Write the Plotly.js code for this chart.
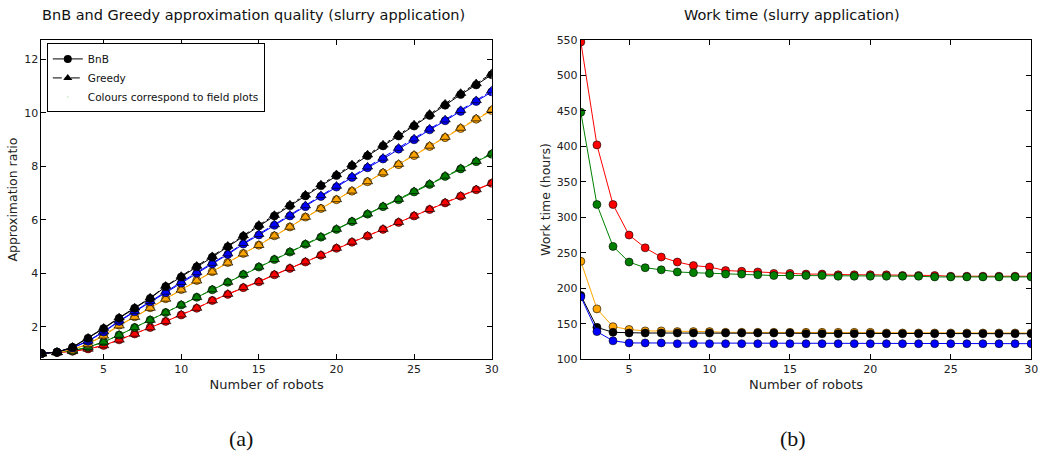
<!DOCTYPE html>
<html>
<head>
<meta charset="utf-8">
<script src="https://cdn.plot.ly/plotly-3.0.1.min.js"></script>
<style>html,body{margin:0;padding:0;background:#fff}#chart{width:1040px;height:457px}</style>
</head>
<body>
<div id="chart"></div>
<script>
// ---- Data: (a) approximation ratio ----
const robotsA = [1,2,3,4,5,6,7,8,9,10,11,12,13,14,15,16,17,18,19,20,21,22,23,24,25,26,27,28,29,30];
const bnbBlack  = [1.0,1.05,1.23,1.57,1.93,2.32,2.69,3.06,3.50,3.86,4.24,4.60,4.99,5.38,5.77,6.14,6.52,6.89,7.27,7.65,8.02,8.39,8.76,9.13,9.50,9.90,10.28,10.68,11.04,11.42];
const bnbBlue   = [1.0,1.05,1.21,1.46,1.80,2.20,2.56,2.93,3.27,3.63,4.00,4.35,4.70,5.09,5.43,5.79,6.14,6.49,6.87,7.22,7.58,7.94,8.27,8.64,8.99,9.36,9.70,10.05,10.42,10.78];
const bnbOrange = [1.0,1.04,1.15,1.36,1.68,2.06,2.37,2.71,3.05,3.39,3.73,4.06,4.40,4.74,5.05,5.40,5.73,6.10,6.42,6.75,7.07,7.42,7.75,8.06,8.40,8.74,9.07,9.41,9.76,10.08];
const bnbGreen  = [1.0,1.04,1.10,1.24,1.43,1.69,1.97,2.25,2.53,2.81,3.10,3.38,3.66,3.95,4.23,4.51,4.79,5.08,5.35,5.64,5.93,6.21,6.49,6.75,7.04,7.32,7.62,7.90,8.17,8.45];
const bnbRed    = [1.0,1.04,1.08,1.17,1.30,1.51,1.73,1.97,2.20,2.44,2.69,2.98,3.21,3.46,3.68,3.94,4.18,4.42,4.67,4.93,5.16,5.39,5.64,5.90,6.14,6.38,6.63,6.88,7.12,7.36];
const grBlack   = [1.0,1.05,1.24,1.58,1.95,2.34,2.71,3.08,3.52,3.89,4.27,4.63,5.02,5.41,5.80,6.17,6.56,6.93,7.31,7.69,8.06,8.43,8.80,9.18,9.55,9.95,10.33,10.73,11.09,11.47];
const grBlue    = [1.0,1.05,1.22,1.47,1.82,2.22,2.58,2.95,3.30,3.66,4.03,4.38,4.73,5.12,5.46,5.82,6.18,6.53,6.91,7.26,7.62,7.98,8.31,8.68,9.03,9.40,9.74,10.09,10.46,10.83];
const grOrange  = [1.0,1.04,1.15,1.35,1.66,2.04,2.36,2.70,3.04,3.38,3.72,4.05,4.39,4.73,5.05,5.40,5.73,6.10,6.42,6.76,7.08,7.43,7.76,8.08,8.42,8.76,9.09,9.43,9.78,10.11];
const grGreen   = [1.0,1.04,1.10,1.24,1.43,1.69,1.97,2.25,2.53,2.82,3.10,3.39,3.67,3.96,4.24,4.52,4.80,5.09,5.36,5.65,5.94,6.22,6.50,6.77,7.06,7.34,7.64,7.92,8.19,8.47];
const grRed     = [1.0,1.04,1.08,1.17,1.30,1.51,1.73,1.97,2.20,2.45,2.70,2.98,3.22,3.47,3.69,3.95,4.19,4.43,4.68,4.94,5.17,5.40,5.65,5.91,6.15,6.39,6.64,6.89,7.13,7.37];

// ---- Data: (b) work time ----
const robotsB = [2,3,4,5,6,7,8,9,10,11,12,13,14,15,16,17,18,19,20,21,22,23,24,25,26,27,28,29,30];
const workRed    = [547,402,318,275,257,244,237,232,230,225,224,223,221,221,220,220,219,219,219,219,218,218,218,217,217,217,217,217,217];
const workGreen  = [448,318,259,237,229,226,223,222,221,220,220,219,218,218,218,218,217,217,217,217,217,217,216,216,216,216,216,216,216];
const workOrange = [238,171,146,142,140,140,139,139,139,138,138,138,138,138,138,138,138,138,138,137,137,137,137,137,137,137,137,137,137];
const workBlack  = [190,145,138,137,137,137,137,137,137,137,137,137,137,137,136,136,136,136,136,136,136,136,136,136,136,136,136,136,136];
const workBlue   = [188,139,126,123,123,123,122,122,122,122,122,122,122,122,122,122,122,122,122,122,122,122,122,122,122,122,122,122,122];

const ticksA = [5,10,15,20,25,30];
const yTicksA = [2,4,6,8,10,12];
const ticksB = [5,10,15,20,25,30];
const yTicksB = [100,150,200,250,300,350,400,450,500,550];

const FONT = 'DejaVu Sans, sans-serif';
const traces = [];

const seriesA = [
  ['#ff0000', bnbRed, grRed],
  ['#008000', bnbGreen, grGreen],
  ['#ffa500', bnbOrange, grOrange],
  ['#0000ff', bnbBlue, grBlue],
  ['#000000', bnbBlack, grBlack]
];
seriesA.forEach(([c, b, g]) => {
  traces.push({x: robotsA, y: b, xaxis:'x', yaxis:'y', mode:'lines+markers', showlegend:false,
    line:{color:c, width:1}, marker:{symbol:'circle', size:8, color:c, line:{color:'#000', width:0.6}}, hoverinfo:'skip'});
  traces.push({x: robotsA, y: g, xaxis:'x', yaxis:'y', mode:'lines+markers', showlegend:false,
    line:{color:c, width:1, dash:'dashdot'}, marker:{symbol:'triangle-up', size:9, color:c, line:{color:'#000', width:0.7}}, hoverinfo:'skip'});
});

// Legend entries
traces.push({x:[null], y:[null], xaxis:'x', yaxis:'y', name:'BnB', mode:'lines+markers',
  line:{color:'#000', width:1}, marker:{symbol:'circle', size:8, color:'#000'}});
traces.push({x:[null], y:[null], xaxis:'x', yaxis:'y', name:'Greedy', mode:'lines+markers',
  line:{color:'#000', width:1, dash:'dashdot'}, marker:{symbol:'triangle-up', size:8, color:'#000'}});
traces.push({x:[null], y:[null], xaxis:'x', yaxis:'y', name:'Colours correspond to field plots', mode:'markers',
  marker:{size:1, opacity:0}});

const seriesB = [
  ['#ff0000', workRed],
  ['#008000', workGreen],
  ['#ffa500', workOrange],
  ['#000000', workBlack],
  ['#0000ff', workBlue]
];
seriesB.forEach(([c, v]) => {
  traces.push({x: robotsB, y: v, xaxis:'x2', yaxis:'y2', mode:'lines+markers', showlegend:false,
    line:{color:c, width:1}, marker:{symbol:'circle', size:8, color:c, line:{color:'#000', width:0.6}}, hoverinfo:'skip'});
});

const axisCommon = {
  showline:true, linecolor:'#000', linewidth:1, mirror:'allticks',
  ticks:'inside', ticklen:5, tickwidth:1, tickcolor:'#000',
  showgrid:false, zeroline:false, automargin:false,
  tickfont:{family:FONT, size:11, color:'#222'}
};

const layout = {
  width:1040, height:457,
  margin:{l:0, r:0, t:0, b:0},
  paper_bgcolor:'#fff', plot_bgcolor:'#fff',
  font:{family:FONT, color:'#222'},
  showlegend:true,
  legend:{x:0.045, y:0.905, xanchor:'left', yanchor:'top', bgcolor:'#fff',
    bordercolor:'#000', borderwidth:1, font:{family:FONT, size:10.5, color:'#111'},
    itemwidth:30, tracegroupgap:0},
  xaxis: Object.assign({}, axisCommon, {domain:[0.0399, 0.4728], range:[1,30], tickvals:ticksA,
    anchor:'y', title:{text:'Number of robots', font:{family:FONT, size:13, color:'#222'}, standoff:4}}),
  yaxis: Object.assign({}, axisCommon, {domain:[0.2142, 0.9125], range:[0.79,12.72], tickvals:yTicksA,
    anchor:'x', title:{text:'Approximation ratio', font:{family:FONT, size:12.5, color:'#222'}, standoff:3}}),
  xaxis2: Object.assign({}, axisCommon, {domain:[0.5585, 0.9915], range:[2,30], tickvals:ticksB,
    anchor:'y2', title:{text:'Number of robots', font:{family:FONT, size:13, color:'#222'}, standoff:4}}),
  yaxis2: Object.assign({}, axisCommon, {domain:[0.2138, 0.9129], range:[100,550], tickvals:yTicksB,
    anchor:'x2', title:{text:'Work time (hours)', font:{family:FONT, size:12.5, color:'#222'}, standoff:3}}),
  annotations:[
    {text:'BnB and Greedy approximation quality (slurry application)', xref:'paper', yref:'paper',
      x:253/1040, y:(457-15)/457, xanchor:'center', yanchor:'middle', showarrow:false,
      font:{family:FONT, size:14.5, color:'#111'}},
    {text:'Work time (slurry application)', xref:'paper', yref:'paper',
      x:792/1040, y:(457-15)/457, xanchor:'center', yanchor:'middle', showarrow:false,
      font:{family:FONT, size:14.5, color:'#111'}},
    {text:'(a)', xref:'paper', yref:'paper', x:241/1040, y:(457-438)/457, xanchor:'center', yanchor:'middle',
      showarrow:false, font:{family:'Liberation Serif, DejaVu Serif, serif', size:22, color:'#111'}},
    {text:'(b)', xref:'paper', yref:'paper', x:793/1040, y:(457-438)/457, xanchor:'center', yanchor:'middle',
      showarrow:false, font:{family:'Liberation Serif, DejaVu Serif, serif', size:22, color:'#111'}}
  ]
};

Plotly.newPlot('chart', traces, layout, {staticPlot:true, displayModeBar:false});
</script>
</body>
</html>
